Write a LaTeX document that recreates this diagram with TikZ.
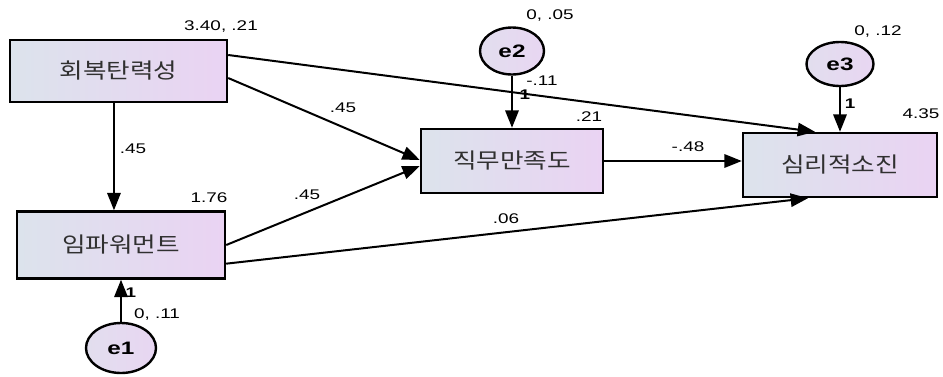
\documentclass[tikz,border=0pt]{standalone}
\usepackage{fontspec}
\setmainfont{Liberation Sans}[FakeStretch=1.35]
\newfontfamily\kr{Noto Sans CJK KR}[FakeStretch=1.2]
\usetikzlibrary{arrows.meta,shapes.geometric}
\definecolor{boxL}{HTML}{DCE3EC}
\definecolor{boxR}{HTML}{EAD3F3}
\definecolor{errL}{HTML}{E2DEEE}
\definecolor{errR}{HTML}{E8D6F2}
\definecolor{ink}{HTML}{303030}
\tikzset{
  var/.style={draw, line width=1.8pt, left color=boxL, right color=boxR,
    text=ink, font=\kr\fontsize{16}{18}\selectfont, inner sep=0pt},
  err/.style={draw, ellipse, line width=1.8pt, left color=errL, right color=errR,
    font=\bfseries\fontsize{13.5}{15}\selectfont, inner sep=0pt},
  arr/.style={line width=1.5pt, -{Triangle[length=13pt,width=10pt]}},
  lab/.style={font=\fontsize{10.5}{12}\selectfont, inner sep=0pt},
  wt/.style={font=\bfseries\fontsize{10.5}{12}\selectfont, inner sep=0pt},
}
\begin{document}
\begin{tikzpicture}[x=0.75pt,y=-0.75pt]
\useasboundingbox[fill=white] (0,0) rectangle (943,376);

% observed variables
\node[var, minimum width=162.75pt, minimum height=46.5pt] (A) at (118.5,71) {회복탄력성};
\node[var, minimum width=156pt, minimum height=50.25pt] (B) at (121,245) {임파워먼트};
\node[var, minimum width=136.5pt, minimum height=48pt] (C) at (512,161) {직무만족도};
\node[var, minimum width=145.5pt, minimum height=48pt] (D) at (840,165) {심리적소진};

% error terms
\node[err, minimum width=52.5pt, minimum height=37.5pt] (e1) at (121,348) {e1};
\node[err, minimum width=48pt, minimum height=35.25pt] (e2) at (512,51) {e2};
\node[err, minimum width=50.25pt, minimum height=33pt] (e3) at (840,64) {e3};

% structural paths
\draw[arr] ([xshift=-3.4pt]A.south) -- ([xshift=-3.4pt]A.south |- B.north);
\draw[arr] ([yshift=-5.25pt]A.east) -- ([yshift=0.75pt]C.west);
\draw[arr] ([yshift=12pt]A.east) -- ([xshift=-18.75pt]D.north);
\draw[arr] (B.east) -- ([yshift=-3.75pt]C.west);
\draw[arr] ([yshift=-14pt]B.east) -- ([xshift=-24pt]D.south);
\draw[arr] (C.east) -- (C.east -| D.west);

% error paths
\draw[arr] (e1.north) -- (B.south);
\draw[arr] (e2.south) -- (C.north);
\draw[arr] (e3.south) -- (D.north);

% estimates
\node[lab] (vA) at (221,27) {3.40, .21};
\node[lab] (vB) at (209,198) {1.76};
\node[lab] (vC) at (589,117) {.21};
\node[lab] (vD) at (921,114) {4.35};
\node[lab] (v1) at (157,314) {0, .11};
\node[lab] (v2) at (550,16) {0, .05};
\node[lab] (v3) at (878,32) {0, .12};
\node[lab] (pAB) at (133,149) {.45};
\node[lab] (pAC) at (343,108) {.45};
\node[lab] (pBC) at (307,195) {.45};
\node[lab] (pAD) at (542,81) {-.11};
\node[lab] (pBD) at (506,219) {.06};
\node[lab] (pCD) at (688,147) {-.48};
\node[wt] (w1) at (131,293) {1};
\node[wt] (w2) at (525,95) {1};
\node[wt] (w3) at (850,104) {1};
\end{tikzpicture}
\end{document}
